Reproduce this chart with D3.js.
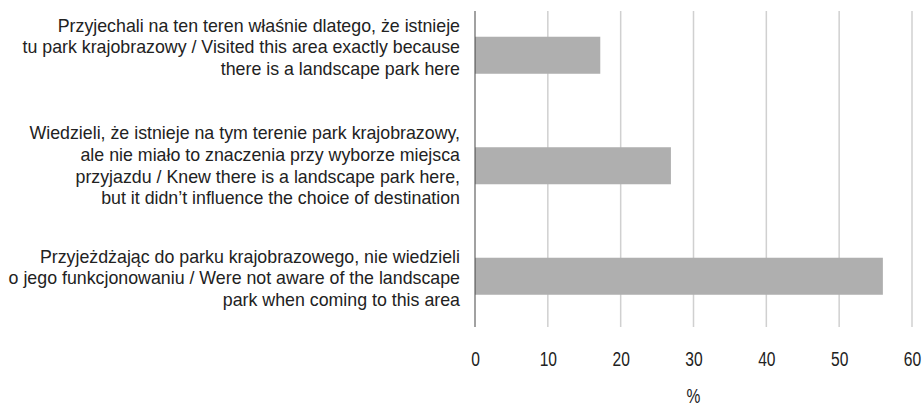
<!DOCTYPE html>
<html>
<head>
<meta charset="utf-8">
<script src="https://cdn.jsdelivr.net/npm/d3@7"></script>
<style>
  html, body { margin: 0; padding: 0; background: #fff; }
  svg { display: block; font-family: "Liberation Sans", Arial, sans-serif; }
</style>
</head>
<body>
<div id="chart"></div>
<script>
// categories (one array of lines per label)
const categories = [
    ["Przyjechali na ten teren właśnie dlatego, że istnieje",
     "tu park krajobrazowy / Visited this area exactly because",
     "there is a landscape park here"],
    ["Wiedzieli, że istnieje na tym terenie park krajobrazowy,",
     "ale nie miało to znaczenia przy wyborze miejsca",
     "przyjazdu / Knew there is a landscape park here,",
     "but it didn’t influence the choice of destination"],
    ["Przyjeżdżając do parku krajobrazowego, nie wiedzieli",
     "o jego funkcjonowaniu / Were not aware of the landscape",
     "park when coming to this area"]
];
const values = [17.2, 26.9, 56.0];
const xTicks = [0, 10, 20, 30, 40, 50, 60];
const xTitle = "%";

const width = 923, height = 406;
const plot = { left: 475, right: 912, top: 11, bottom: 327 };
const narrow = 0.8; // tick digits are squeezed horizontally

const svg = d3.select('#chart').append('svg')
    .attr('width', width)
    .attr('height', height);

const x = d3.scaleLinear().domain([0, 60]).range([plot.left, plot.right]);
const y = d3.scaleBand()
    .domain(d3.range(categories.length))
    .range([0, 331.5])
    .paddingInner(0.665)
    .paddingOuter(0.3325);

// vertical gridlines
svg.append('g')
    .selectAll('line')
    .data(xTicks.filter(d => d > 0))
    .join('line')
    .attr('x1', d => x(d)).attr('x2', d => x(d))
    .attr('y1', plot.top).attr('y2', plot.bottom)
    .attr('stroke', '#d0d0d0')
    .attr('stroke-width', 1.5);

// bars
svg.append('g')
    .selectAll('rect')
    .data(values)
    .join('rect')
    .attr('x', x(0))
    .attr('y', (d, i) => y(i))
    .attr('width', d => x(d) - x(0))
    .attr('height', y.bandwidth())
    .attr('fill', '#afafaf');

// value axis line at 0
svg.append('line')
    .attr('x1', x(0)).attr('x2', x(0))
    .attr('y1', plot.top).attr('y2', plot.bottom)
    .attr('stroke', '#444')
    .attr('stroke-width', 1);

// x tick labels via d3 axis
const xAxis = svg.append('g')
    .attr('transform', `translate(0,${plot.bottom})`)
    .call(d3.axisBottom(x).tickValues(xTicks).tickSize(0));
xAxis.select('.domain').remove();
xAxis.selectAll('text')
    .attr('font-size', 19.5)
    .attr('font-family', null)
    .attr('fill', '#222')
    .attr('dy', null)
    .attr('y', 39)
    .attr('transform', `scale(${narrow},1)`);

svg.append('text')
    .attr('transform', `translate(${(plot.left + plot.right) / 2},403) scale(${narrow},1)`)
    .attr('text-anchor', 'middle')
    .attr('font-size', 19.5)
    .attr('fill', '#222')
    .text(xTitle);

// category labels, right aligned, multi-line
const lineH = 21.7;
const labelNudge = [-8, 0, 2];
const labels = svg.append('g')
    .selectAll('text')
    .data(categories)
    .join('text')
    .attr('text-anchor', 'end')
    .attr('font-size', 17.8)
    .attr('fill', '#222');

labels.each(function (lines, i) {
    const cy = y(i) + y.bandwidth() / 2 + labelNudge[i];
    const first = cy - (lines.length - 1) * lineH / 2 + 6;
    d3.select(this).selectAll('tspan')
        .data(lines)
        .join('tspan')
        .attr('x', 460)
        .attr('y', (d, j) => first + j * lineH)
        .text(d => d);
});
</script>
</body>
</html>
